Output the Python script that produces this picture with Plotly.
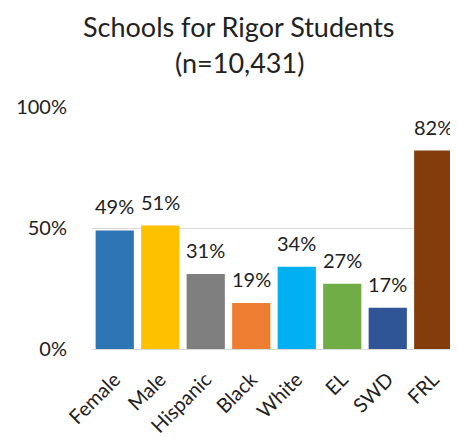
import plotly.graph_objects as go

categories = ["Female", "Male", "Hispanic", "Black", "White", "EL", "SWD", "FRL"]
values = [49, 51, 31, 19, 34, 27, 17, 82]
colors = ["#2E75B6", "#FFC000", "#7F7F7F", "#ED7D31", "#00B0F0", "#70AD47", "#2F5597", "#843C0C"]
tick_vals = [0, 50, 100]
tick_text = ["0%", "50%", "100%"]
title_lines = ["Schools for Rigor Students", "(n=10,431)"]

fig = go.Figure(go.Bar(
    x=categories, y=values,
    marker=dict(color=colors, line=dict(width=0)),
    cliponaxis=False,
))
for c, v in zip(categories, values):
    fig.add_annotation(x=c, y=v, text=f"{v}%", showarrow=False, yanchor="middle",
                       yshift=24, font=dict(size=20, color="#222222"))
fig.update_layout(
    width=450, height=429,
    margin=dict(l=84, r=2, t=99, b=88, autoexpand=False),
    paper_bgcolor="white", plot_bgcolor="white",
    font=dict(family="Lato, Open Sans, sans-serif", color="#222222"),
    bargap=0.16,
    showlegend=False,
)
fig.add_annotation(text=title_lines[0], xref="paper", yref="paper", x=0.404, y=1.0,
                   yshift=81, showarrow=False, font=dict(size=27), xanchor="center", yanchor="middle")
fig.add_annotation(text=title_lines[1], xref="paper", yref="paper", x=0.404, y=1.0,
                   yshift=45, showarrow=False, font=dict(size=27), xanchor="center", yanchor="middle")
fig.update_yaxes(range=[0, 100], tickvals=tick_vals, ticktext=tick_text,
                 showgrid=True, gridcolor="#D9D9D9", gridwidth=1, automargin=False,
                 tickfont=dict(size=20), ticks="", zeroline=False, showline=False, ticklabelstandoff=24)
fig.update_xaxes(tickangle=-45, tickfont=dict(size=20), showline=True, linecolor="#D9D9D9",
                 ticks="", automargin=False, ticklabelstandoff=10)
fig.write_html("out.html")
